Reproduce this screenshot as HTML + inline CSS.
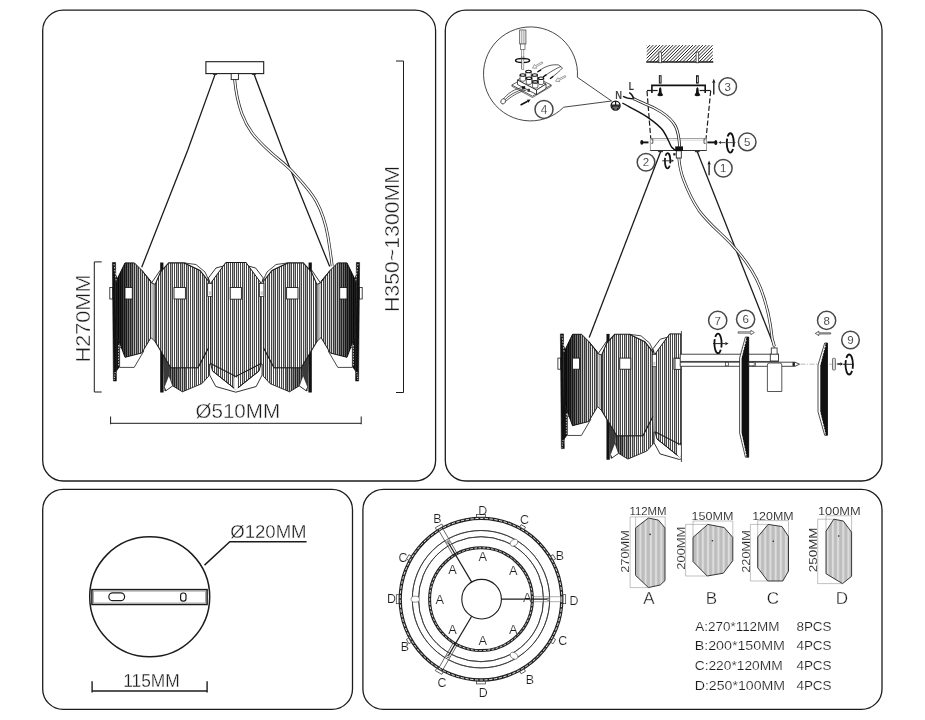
<!DOCTYPE html>
<html><head><meta charset="utf-8"><title>Chandelier diagram</title>
<style>html,body{margin:0;padding:0;background:#fff;}body{width:925px;height:720px;overflow:hidden;}svg{display:block;font-family:"Liberation Sans",sans-serif;filter:grayscale(1);}</style></head>
<body>
<svg width="925" height="720" viewBox="0 0 925 720">
<defs>
<pattern id="hM" width="16" height="8" patternUnits="userSpaceOnUse">
  <rect width="16" height="8" fill="#fff"/>
  <rect x="3" width="1" height="8" fill="#bababa"/>
  <rect x="9" width="1" height="8" fill="#ababab"/>
  <rect x="13" width="1" height="8" fill="#d4d4d4"/>
  <g fill="#464646"><rect x="0" width="1" height="8"/><rect x="2" width="1" height="8"/><rect x="4" width="1" height="8"/><rect x="6" width="1" height="8"/>
  <rect x="8" width="1" height="8"/><rect x="10" width="1" height="8"/><rect x="12" width="1" height="8"/><rect x="14" width="1" height="8"/></g>
</pattern>
<pattern id="hB" width="16" height="8" patternUnits="userSpaceOnUse">
  <rect width="16" height="8" fill="#fff"/>
  <rect x="1" width="1" height="8" fill="#b4b4b4"/>
  <rect x="5" width="1" height="8" fill="#a8a8a8"/>
  <rect x="7" width="1" height="8" fill="#d0d0d0"/>
  <rect x="11" width="1" height="8" fill="#acacac"/>
  <g fill="#464646"><rect x="0" width="1" height="8"/><rect x="2" width="1" height="8"/><rect x="4" width="1" height="8"/><rect x="6" width="1" height="8"/>
  <rect x="8" width="1" height="8"/><rect x="10" width="1" height="8"/><rect x="12" width="1" height="8"/><rect x="14" width="1" height="8"/></g>
</pattern>
<pattern id="pieceH" width="5.2" height="8" patternUnits="userSpaceOnUse">
  <rect width="5.2" height="8" fill="#c4c4c4"/>
  <rect x="0" width="1.6" height="8" fill="#dedede"/>
  <rect x="3.2" width="0.5" height="8" fill="#aaa"/>
</pattern>
<linearGradient id="shadeL" x1="0" x2="1" y1="0" y2="0">
  <stop offset="0" stop-color="#000" stop-opacity="0.9"/>
  <stop offset="0.3" stop-color="#000" stop-opacity="0.6"/>
  <stop offset="0.6" stop-color="#000" stop-opacity="0.18"/>
  <stop offset="1" stop-color="#000" stop-opacity="0"/>
</linearGradient>
</defs>
<rect width="925" height="720" fill="#fff"/>
<rect x="42.7" y="10.1" width="392.90000000000003" height="470.9" rx="20.5" ry="20.5" fill="#fff" stroke="#1c1c1c" stroke-width="1.3"/>
<rect x="445.3" y="10.1" width="436.7" height="470.9" rx="20.5" ry="20.5" fill="#fff" stroke="#1c1c1c" stroke-width="1.3"/>
<rect x="42.7" y="489.3" width="309.8" height="220.09999999999997" rx="20.5" ry="20.5" fill="#fff" stroke="#1c1c1c" stroke-width="1.3"/>
<rect x="362.9" y="489.3" width="519.1" height="220.09999999999997" rx="20.5" ry="20.5" fill="#fff" stroke="#1c1c1c" stroke-width="1.3"/>
<defs><g id="chHalf"><rect x="109.8" y="287.5" width="3.0" height="11.5" fill="#fff" stroke="#1c1c1c" stroke-width="0.8"/>
<polygon points="112.4,262.5 115.6,262.5 116.4,381.0 113.4,381.0" fill="#111" stroke="#111" stroke-width="0.6"/>
<polygon points="115.6,274.0 118.0,279.0 118.0,338.0 119.6,343.0 119.6,367.0 116.2,372.0 116.0,300.0" fill="#111"/>
<polyline points="114.0,264.0 116.4,282.0" fill="none" stroke="#fff" stroke-width="0.8" stroke-dasharray="1.5 1.5"/>
<polyline points="118.6,345.0 118.6,366.0" fill="none" stroke="#ddd" stroke-width="0.9" stroke-dasharray="1.5 1.2"/>
<polyline points="115.2,372.0 114.2,380.0" fill="none" stroke="#fff" stroke-width="0.8" stroke-dasharray="1.2 1.2"/>
<polygon points="143.9,350.9 134.2,367.4 119.6,367.4 119.6,347.5" fill="#fff" stroke="#1c1c1c" stroke-width="0.8"/>
<polygon points="125.0,262.9 134.4,262.9 142.0,270.5 151.0,281.3 151.0,337.5 141.7,353.0 125.0,357.3 117.7,337.5 117.7,278.0" fill="url(#hM)" stroke="#1c1c1c" stroke-width="1"/>
<polygon points="125.0,262.9 134.4,262.9 142.0,270.5 151.0,281.3 151.0,337.5 141.7,353.0 125.0,357.3 117.7,337.5 117.7,278.0" fill="url(#shadeL)"/>
<rect x="125.0" y="287.5" width="7.3" height="11.5" fill="#fff" stroke="#1c1c1c" stroke-width="0.9"/>
<polygon points="151.0,281.3 155.2,284.4 155.2,341.7 151.0,337.5" fill="#cfcfcf"/>
<line x1="153.2" y1="284.0" x2="153.2" y2="339.0" stroke="#777" stroke-width="0.6" />
<polyline points="142.0,270.5 151.5,283.0 160.4,270.0" fill="none" stroke="#1c1c1c" stroke-width="0.9"/>
<polyline points="151.0,337.5 155.2,341.7" fill="none" stroke="#1c1c1c" stroke-width="0.9"/>
<polyline points="151.5,283.0 155.2,284.4" fill="none" stroke="#1c1c1c" stroke-width="0.9"/>
<rect x="160.2" y="262.5" width="3.2" height="16.0" fill="#111"/>
<rect x="160.2" y="350.0" width="3.4" height="42.5" fill="#111"/>
<polygon points="163.6,352.0 170.8,367.7 198.0,367.7 208.3,348.0 208.8,376.0 201.9,383.6 182.4,391.8 172.7,385.8 165.0,391.0" fill="url(#hM)" stroke="#1c1c1c" stroke-width="0.9"/>
<polygon points="163.6,352.0 170.8,367.7 178.0,367.7 178.0,389.0 172.7,385.8 165.0,391.0" fill="#000" fill-opacity="0.5"/>
<polygon points="178.0,367.7 186.0,367.7 186.0,390.5 182.4,391.8 178.0,389.0" fill="#000" fill-opacity="0.25"/>
<polygon points="163.8,356.6 170.0,367.4 168.9,375.0 164.0,386.9" fill="#3a3a3a"/>
<polygon points="168.9,375.0 172.7,385.8 166.2,390.5 164.2,387.0" fill="#fff" stroke="#1c1c1c" stroke-width="0.7"/>
<polygon points="168.75,262.9 184.0,262.9 200.0,270.5 208.3,281.0 208.3,348.0 198.0,367.7 170.8,367.7 155.2,341.7 155.2,284.4 160.5,272.0" fill="url(#hB)" stroke="#1c1c1c" stroke-width="1.1"/>
<rect x="174.0" y="287.5" width="11.4" height="11.5" fill="#fff" stroke="#1c1c1c" stroke-width="0.9"/>
<polyline points="184.0,262.9 196.0,264.5 205.0,272.0 209.5,281.5" fill="none" stroke="#1c1c1c" stroke-width="0.8"/></g><g id="chCentre"><polyline points="225.8,262.5 224.4,265.7 216.0,268.0 208.4,277.9 209.9,283.3" fill="none" stroke="#1c1c1c" stroke-width="0.9"/>
<polyline points="246.0,262.5 247.2,265.7 255.6,268.0 263.2,277.9 261.7,283.3" fill="none" stroke="#1c1c1c" stroke-width="0.9"/>
<polygon points="209.6,364.0 209.6,375.0 215.8,386.5 235.8,392.2 256.2,386.5 262.1,375.0 262.1,364.0" fill="#fff" stroke="#1c1c1c" stroke-width="0.9"/>
<polygon points="225.8,262.5 246.0,262.5 261.2,283.3 261.2,363.5 259.0,371.0 235.8,389.6 212.6,371.0 210.6,363.5 210.6,283.3" fill="url(#hM)" stroke="#1c1c1c" stroke-width="1"/>
<polyline points="210.6,363.5 235.8,376.5 261.2,363.5" fill="none" stroke="#1c1c1c" stroke-width="1.1"/>
<polyline points="212.6,371.0 235.8,389.6 259.0,371.0" fill="none" stroke="#1c1c1c" stroke-width="0.9"/>
<polygon points="234.2,377.5 237.8,377.5 237.8,388.5 236.0,390.5 234.2,388.5" fill="#fff"/>
<rect x="230.2" y="287.5" width="11.2" height="11.7" fill="#fff" stroke="#1c1c1c" stroke-width="0.9"/>
<rect x="207.7" y="283.6" width="4.4" height="12.8" fill="#fff" stroke="#1c1c1c" stroke-width="0.7"/>
<rect x="208.8" y="291.3" width="2.2" height="3.6" fill="#ccc"/>
<rect x="259.5" y="283.6" width="4.4" height="12.8" fill="#fff" stroke="#1c1c1c" stroke-width="0.7"/>
<rect x="260.6" y="291.3" width="2.2" height="3.6" fill="#ccc"/></g>
<g id="chFull"><use href="#chHalf"/><use href="#chHalf" transform="translate(472 0) scale(-1 1)"/><use href="#chCentre"/></g></defs>
<polyline points="215,74.6 187.8,150 141.7,267.3" fill="none" stroke="#1c1c1c" stroke-width="1.3"/>
<polyline points="254.2,74.6 282.6,150 329.7,266.6" fill="none" stroke="#1c1c1c" stroke-width="1.3"/>
<path d="M234.6,79 C236,95 238,103 241.9,113.7 C248,130 256,138 263.7,145.8 C275,157 283,162 291.4,170.6 C302,182 310,190 316.2,201.2 C322,212 326,225 327.9,236.2 C329.5,246 331,256 332.2,266" fill="none" stroke="#2a2a2a" stroke-width="2.9"/>
<path d="M234.6,79 C236,95 238,103 241.9,113.7 C248,130 256,138 263.7,145.8 C275,157 283,162 291.4,170.6 C302,182 310,190 316.2,201.2 C322,212 326,225 327.9,236.2 C329.5,246 331,256 332.2,266" fill="none" stroke="#fff" stroke-width="1.4"/>
<rect x="205.9" y="61.7" width="57.8" height="11.9" fill="#fff" stroke="#1c1c1c" stroke-width="1.1"/>
<rect x="231.2" y="73.6" width="7.2" height="6" fill="#fff" stroke="#1c1c1c" stroke-width="0.9"/>
<ellipse cx="215" cy="74.2" rx="2.2" ry="0.9" fill="#333"/>
<ellipse cx="254" cy="74.2" rx="2.2" ry="0.9" fill="#333"/>
<use href="#chFull"/>
<polyline points="101.7,261.9 94.3,261.9 94.3,392 101.7,392" fill="none" stroke="#1c1c1c" stroke-width="1"/>
<text x="90.3" y="362.5" font-size="20" text-anchor="start" fill="#1c1c1c" font-weight="normal" textLength="88" lengthAdjust="spacingAndGlyphs" transform="rotate(-90 90.3 362.5)" stroke="#fff" stroke-width="0.38">H270MM</text>
<polyline points="396,61 403.5,61 403.5,392.5 396,392.5" fill="none" stroke="#1c1c1c" stroke-width="1"/>
<text x="398.5" y="312" font-size="20" text-anchor="start" fill="#1c1c1c" font-weight="normal" textLength="146" lengthAdjust="spacingAndGlyphs" transform="rotate(-90 398.5 312)" stroke="#fff" stroke-width="0.38">H350~1300MM</text>
<polyline points="110.6,416.5 110.6,424.3" fill="none" stroke="#1c1c1c" stroke-width="1"/>
<polyline points="361.2,416.5 361.2,424.3" fill="none" stroke="#1c1c1c" stroke-width="1"/>
<line x1="110.6" y1="423.3" x2="361.2" y2="423.3" stroke="#1c1c1c" stroke-width="1" />
<text x="195.4" y="417.8" font-size="19.8" text-anchor="start" fill="#1c1c1c" font-weight="normal" textLength="84.8" lengthAdjust="spacingAndGlyphs" stroke="#fff" stroke-width="0.38">Ø510MM</text>
<path d="M577.4,77.3 A47,47 0 1 0 563.7,107.2 L611.6,101 Z" fill="#fff" stroke="#333" stroke-width="0.9"/>
<rect x="519.7" y="30" width="6.2" height="14" fill="#fff" stroke="#444" stroke-width="0.8"/>
<line x1="521.8" y1="30.5" x2="521.8" y2="43.5" stroke="#666" stroke-width="0.7" />
<line x1="523.9" y1="30.5" x2="523.9" y2="43.5" stroke="#666" stroke-width="0.7" />
<rect x="520.6" y="44" width="4.4" height="5.4" fill="#fff" stroke="#555" stroke-width="0.7"/>
<rect x="521.7" y="49.4" width="2.1" height="20" fill="#fff" stroke="#666" stroke-width="0.6"/>
<ellipse cx="522.6" cy="60.4" rx="7" ry="2" fill="none" stroke="#111" stroke-width="1.5"/>
<rect x="521.9" y="61" width="1.7" height="2.6" fill="#fff"/>
<line x1="521.7" y1="56" x2="521.7" y2="69" stroke="#666" stroke-width="0.6" />
<line x1="523.8" y1="56" x2="523.8" y2="58.2" stroke="#666" stroke-width="0.6" />
<polygon points="511.9,85 530,74.6 551.2,85 532.5,96.2" fill="#fff" stroke="#333" stroke-width="0.8"/>
<polyline points="511.9,85 511.9,86.3 532.5,97.5 551.2,86.3 551.2,85" fill="none" stroke="#333" stroke-width="0.7"/>
<path d="M523.7,87.5 C515,88 507,94 503,99.5 M526.5,90 C518,92 510,97 504.5,102.5 M525,88.8 C516,91 509,95 503.8,101" fill="none" stroke="#333" stroke-width="0.8"/>
<ellipse cx="503.2" cy="101.3" rx="2.2" ry="2.8" transform="rotate(30 503.2 101.3)" fill="#fff" stroke="#333" stroke-width="0.8"/>
<path d="M537.5,72 C545,66 552,64 558.7,65 M543,77 C550,72 557,68 561,66.5 M550,78.8 C556,74 560,71 562.5,68 M558.7,65 L562.5,68" fill="none" stroke="#333" stroke-width="0.8"/>
<line x1="537.5" y1="72" x2="541" y2="69.8" stroke="#111" stroke-width="1.4" />
<line x1="543" y1="77" x2="546.5" y2="74.6" stroke="#111" stroke-width="1.4" />
<line x1="550" y1="78.8" x2="553.3" y2="76.3" stroke="#111" stroke-width="1.4" />
<polygon points="517.5,80 527,74.5 546,84 536.5,90" fill="#fff" stroke="#222" stroke-width="0.8"/>
<polygon points="517.5,80 517.5,84.5 536.5,94.5 536.5,90" fill="#fff" stroke="#222" stroke-width="0.8"/>
<polygon points="536.5,90 536.5,94.5 546,88.5 546,84" fill="#fff" stroke="#222" stroke-width="0.8"/>
<path d="M525.8,71.5 v5 a2.7,1.25 0 0 0 5.4,0 v-5 z" fill="#fff" stroke="#222" stroke-width="0.7"/>
<ellipse cx="528.5" cy="71.5" rx="2.7" ry="1.25" fill="#fff" stroke="#111" stroke-width="1.1"/>
<path d="M532.05,75 v5 a2.7,1.25 0 0 0 5.4,0 v-5 z" fill="#fff" stroke="#222" stroke-width="0.7"/>
<ellipse cx="534.75" cy="75" rx="2.7" ry="1.25" fill="#fff" stroke="#111" stroke-width="1.1"/>
<path d="M538.3,78.3 v5 a2.7,1.25 0 0 0 5.4,0 v-5 z" fill="#fff" stroke="#222" stroke-width="0.7"/>
<ellipse cx="541" cy="78.3" rx="2.7" ry="1.25" fill="#fff" stroke="#111" stroke-width="1.1"/>
<path d="M520.05,75 v5 a2.7,1.25 0 0 0 5.4,0 v-5 z" fill="#fff" stroke="#222" stroke-width="0.7"/>
<ellipse cx="522.75" cy="75" rx="2.7" ry="1.25" fill="#fff" stroke="#111" stroke-width="1.1"/>
<path d="M526.3,78.2 v5 a2.7,1.25 0 0 0 5.4,0 v-5 z" fill="#fff" stroke="#222" stroke-width="0.7"/>
<ellipse cx="529" cy="78.2" rx="2.7" ry="1.25" fill="#fff" stroke="#111" stroke-width="1.1"/>
<path d="M532.55,81.9 v5 a2.7,1.25 0 0 0 5.4,0 v-5 z" fill="#fff" stroke="#222" stroke-width="0.7"/>
<ellipse cx="535.25" cy="81.9" rx="2.7" ry="1.25" fill="#fff" stroke="#111" stroke-width="1.1"/>
<rect x="522" y="86.2" width="3.2" height="2.6" fill="#111"/>
<rect x="527.5" y="88.8" width="2.4" height="3" fill="#333"/>
<polygon points="542.13,61.85 535.19,65.74 534.48,64.47 532.5,68.1 536.63,68.31 535.92,67.04 542.87,63.15" fill="#fff" stroke="#777" stroke-width="0.7"/>
<polygon points="565.26,75.53 558.38,79.04 557.72,77.75 555.6,81.3 559.72,81.67 559.06,80.38 565.94,76.87" fill="#fff" stroke="#777" stroke-width="0.7"/>
<line x1="520.6" y1="105" x2="527.61" y2="101.22" stroke="#111" stroke-width="1.5"/><polygon points="530.6,99.6 528.42,102.71 526.80,99.72" fill="#111"/>
<circle cx="544" cy="109.4" r="9" fill="#fff" stroke="#484848" stroke-width="1.5"/><text x="544" y="113.72" font-size="12" text-anchor="middle" fill="#333" font-weight="normal" stroke="#fff" stroke-width="0.16">4</text>
<clipPath id="ceilClip"><rect x="646.7" y="45.1" width="66.1" height="16.9"/></clipPath>
<path d="M629.80,62 l16.9,-16.9M633.10,62 l16.9,-16.9M636.40,62 l16.9,-16.9M639.70,62 l16.9,-16.9M643.00,62 l16.9,-16.9M646.30,62 l16.9,-16.9M649.60,62 l16.9,-16.9M652.90,62 l16.9,-16.9M656.20,62 l16.9,-16.9M659.50,62 l16.9,-16.9M662.80,62 l16.9,-16.9M666.10,62 l16.9,-16.9M669.40,62 l16.9,-16.9M672.70,62 l16.9,-16.9M676.00,62 l16.9,-16.9M679.30,62 l16.9,-16.9M682.60,62 l16.9,-16.9M685.90,62 l16.9,-16.9M689.20,62 l16.9,-16.9M692.50,62 l16.9,-16.9M695.80,62 l16.9,-16.9M699.10,62 l16.9,-16.9M702.40,62 l16.9,-16.9M705.70,62 l16.9,-16.9M709.00,62 l16.9,-16.9M712.30,62 l16.9,-16.9M715.60,62 l16.9,-16.9" stroke="#1e1e1e" stroke-width="1.0" fill="none" clip-path="url(#ceilClip)"/>
<line x1="646.2" y1="62" x2="713.3" y2="62" stroke="#1c1c1c" stroke-width="1.4" />
<rect x="658.9000000000001" y="52" width="2.6" height="10.8" fill="#fff" stroke="#222" stroke-width="0.7"/>
<rect x="659.35" y="75.7" width="1.7" height="7.4" fill="#fff" stroke="#111" stroke-width="1"/>
<path d="M660.2,87 l1.1,1.4 l0.3,4.2 l1.6,2.6 q-3,1.9 -6,0 l1.6,-2.6 l0.3,-4.2 z" fill="#111"/>
<rect x="696.1" y="52" width="2.6" height="10.8" fill="#fff" stroke="#222" stroke-width="0.7"/>
<rect x="696.55" y="75.7" width="1.7" height="7.4" fill="#fff" stroke="#111" stroke-width="1"/>
<path d="M697.4,87 l1.1,1.4 l0.3,4.2 l1.6,2.6 q-3,1.9 -6,0 l1.6,-2.6 l0.3,-4.2 z" fill="#111"/>
<polyline points="651.9,93 651.9,85.4 705.2,85.4 705.2,93" fill="none" stroke="#111" stroke-width="1.6"/>
<line x1="647" y1="90.5" x2="657.6" y2="90.5" stroke="#1c1c1c" stroke-width="1.2" />
<line x1="699.6" y1="90.5" x2="710.7" y2="90.5" stroke="#1c1c1c" stroke-width="1.2" />
<line x1="647" y1="91" x2="651.1" y2="143.3" stroke="#1c1c1c" stroke-width="1.2" stroke-dasharray="5.2 2.2"/>
<line x1="710.7" y1="91" x2="705.6" y2="143.3" stroke="#1c1c1c" stroke-width="1.2" stroke-dasharray="5.2 2.2"/>
<line x1="713.8" y1="94.4" x2="713.80" y2="82.80" stroke="#111" stroke-width="1.3"/><polygon points="713.8,78.8 715.40,82.80 712.20,82.80" fill="#111"/>
<circle cx="727.7" cy="86.6" r="8.8" fill="#fff" stroke="#484848" stroke-width="1.5"/><text x="727.7" y="90.74" font-size="11.5" text-anchor="middle" fill="#333" font-weight="normal" stroke="#fff" stroke-width="0.1">3</text>
<text x="615.2" y="98.5" font-size="11" text-anchor="start" fill="#444" font-weight="bold" textLength="6.8" lengthAdjust="spacingAndGlyphs">N</text>
<text x="628.8" y="90.4" font-size="11" text-anchor="start" fill="#333" font-weight="bold" textLength="5.2" lengthAdjust="spacingAndGlyphs">L</text>
<circle cx="615.6" cy="105.6" r="4.5" fill="#fff" stroke="#111" stroke-width="1.3"/>
<path d="M611.4,105.3 a4.2,4.2 0 0 0 8.4,0 z" fill="#222"/>
<line x1="615.6" y1="101.2" x2="615.6" y2="105.4" stroke="#1c1c1c" stroke-width="1.2" />
<line x1="611.2" y1="105.1" x2="620" y2="105.1" stroke="#1c1c1c" stroke-width="1.2" />
<line x1="613" y1="107.2" x2="618.2" y2="107.2" stroke="#ddd" stroke-width="0.6" />
<line x1="614.2" y1="108.8" x2="617" y2="108.8" stroke="#ddd" stroke-width="0.6" />
<rect x="650.3" y="138.4" width="56.2" height="12.1" fill="#fff" stroke="#8a8a8a" stroke-width="0.8"/>
<line x1="650.3" y1="140.2" x2="706.5" y2="140.2" stroke="#bbb" stroke-width="0.6" />
<line x1="650.3" y1="150.5" x2="706.5" y2="150.5" stroke="#333" stroke-width="1.1" />
<polyline points="651.2,139 652.8,139 652.8,143.3 651.2,143.3" fill="none" stroke="#333" stroke-width="0.8"/>
<polyline points="705.6,139 704,139 704,143.3 705.6,143.3" fill="none" stroke="#333" stroke-width="0.8"/>
<path d="M622.4,103 C630,107.6 640,112 647.7,117.3 C656,123 660,126 663.3,131 C668,138 669,143 671.5,147 C673,149 675,150 677,150.3" fill="none" stroke="#111" stroke-width="1.4"/>
<path d="M633.5,98.6 C637,100.3 640,101.8 645,103.8 C651,106 656,108.5 661.5,112.1 C668,116.5 672.5,120.5 675.4,126 C678,131 679.2,139 679.7,147" fill="none" stroke="#222" stroke-width="2.9"/>
<path d="M633.5,98.6 C637,100.3 640,101.8 645,103.8 C651,106 656,108.5 661.5,112.1 C668,116.5 672.5,120.5 675.4,126 C678,131 679.2,139 679.7,147" fill="none" stroke="#fff" stroke-width="1.3"/>
<path d="M629.2,92.7 q3.2,1.6 4.6,6.1" fill="none" stroke="#111" stroke-width="1.3"/>
<path d="M623,96.2 q4,2.6 10.4,2.6" fill="none" stroke="#111" stroke-width="1.3"/>
<line x1="660.7" y1="151.5" x2="589.2" y2="337.5" stroke="#1c1c1c" stroke-width="1.3" />
<line x1="697.2" y1="151.5" x2="774.6" y2="347.5" stroke="#1c1c1c" stroke-width="1.3" />
<ellipse cx="660.5" cy="151.4" rx="2.6" ry="0.9" fill="#333"/>
<ellipse cx="697.3" cy="151.4" rx="2.6" ry="0.9" fill="#333"/>
<path d="M678.8,157.5 C679.5,166 681,173 683.6,179.7 C687.5,190 692,200 698.9,210.3 C708,223 722,234 732.5,245.4 C744,258 754,272 760,286.7 C767,304 770.5,322 772.2,338.6 L774.4,346.5" fill="none" stroke="#2a2a2a" stroke-width="2.9"/>
<path d="M678.8,157.5 C679.5,166 681,173 683.6,179.7 C687.5,190 692,200 698.9,210.3 C708,223 722,234 732.5,245.4 C744,258 754,272 760,286.7 C767,304 770.5,322 772.2,338.6 L774.4,346.5" fill="none" stroke="#fff" stroke-width="1.4"/>
<rect x="676.3" y="150.8" width="5" height="7.2" fill="#fff" stroke="#222" stroke-width="0.9"/>
<rect x="675.2" y="146.4" width="7.8" height="4.6" fill="#111"/>
<rect x="673.3" y="153.2" width="2.2" height="2.2" fill="#111"/>
<path d="M648.5,142.4 h-6" stroke="#111" stroke-width="1.9"/><ellipse cx="641.8" cy="142.4" rx="1.5" ry="2.4" fill="#111"/>
<path d="M707.4,142.4 h8" stroke="#111" stroke-width="1.9"/><ellipse cx="715.8" cy="142.4" rx="1.6" ry="2.5" fill="#111"/>
<line x1="725.5" y1="142.6" x2="721.00" y2="142.60" stroke="#333" stroke-width="0.9"/><polygon points="718.4,142.6 721.00,141.10 721.00,144.10" fill="#333"/>
<ellipse cx="730.3" cy="142.9" rx="3.5" ry="9.7" fill="none" stroke="#111" stroke-width="1.9" stroke-dasharray="19.69 2.2" stroke-dashoffset="-6.13"/>
<line x1="726" y1="142.6" x2="735.5" y2="142.6" stroke="#333" stroke-width="0.8" />
<circle cx="747.2" cy="141.9" r="8.8" fill="#fff" stroke="#484848" stroke-width="1.5"/><text x="747.2" y="146.04" font-size="11.5" text-anchor="middle" fill="#333" font-weight="normal" stroke="#fff" stroke-width="0.1">5</text>
<ellipse cx="667.6" cy="160.8" rx="2.7" ry="7.6" fill="none" stroke="#111" stroke-width="1.7" stroke-dasharray="14.91 2.2" stroke-dashoffset="-4.79"/>
<line x1="662.2" y1="160.8" x2="671.40" y2="160.80" stroke="#222" stroke-width="0.9"/><polygon points="674,160.8 671.40,162.30 671.40,159.30" fill="#222"/>
<circle cx="646" cy="162.3" r="8.8" fill="#fff" stroke="#484848" stroke-width="1.5"/><text x="646" y="166.44" font-size="11.5" text-anchor="middle" fill="#333" font-weight="normal" stroke="#fff" stroke-width="0.1">2</text>
<line x1="709.1" y1="175.3" x2="709.10" y2="164.60" stroke="#111" stroke-width="1.3"/><polygon points="709.1,160.6 710.70,164.60 707.50,164.60" fill="#111"/>
<circle cx="723.3" cy="168.3" r="8.8" fill="#fff" stroke="#484848" stroke-width="1.5"/><text x="723.3" y="172.44" font-size="11.5" text-anchor="middle" fill="#333" font-weight="normal" stroke="#fff" stroke-width="0.1">1</text>
<clipPath id="clipHalf"><rect x="540" y="320" width="141.39999999999998" height="160"/></clipPath>
<g clip-path="url(#clipHalf)"><rect x="557.9" y="358.1" width="2.89" height="11.13" fill="#fff" stroke="#1c1c1c" stroke-width="0.8"/>
<polygon points="560.4,333.9 563.49,333.9 564.26,448.61 561.36,448.61" fill="#111" stroke="#111" stroke-width="0.6"/>
<polygon points="563.49,345.03 565.8,349.87 565.8,406.98 567.34,411.82 567.34,435.06 564.06,439.9 563.87,370.2" fill="#111"/>
<polyline points="561.94,335.35 564.26,352.78" fill="none" stroke="#fff" stroke-width="0.8" stroke-dasharray="1.5 1.5"/>
<polyline points="566.38,413.76 566.38,434.09" fill="none" stroke="#ddd" stroke-width="0.9" stroke-dasharray="1.5 1.2"/>
<polyline points="563.1,439.9 562.14,447.64" fill="none" stroke="#fff" stroke-width="0.8" stroke-dasharray="1.2 1.2"/>
<polygon points="590.76,419.47 581.41,435.44 567.34,435.44 567.34,416.18" fill="#fff" stroke="#1c1c1c" stroke-width="0.8"/>
<polygon points="572.54,334.29 581.6,334.29 588.93,341.64 597.6,352.1 597.6,406.5 588.64,421.5 572.54,425.67 565.51,406.5 565.51,348.9" fill="url(#hM)" stroke="#1c1c1c" stroke-width="1"/>
<polygon points="572.54,334.29 581.6,334.29 588.93,341.64 597.6,352.1 597.6,406.5 588.64,421.5 572.54,425.67 565.51,406.5 565.51,348.9" fill="url(#shadeL)"/>
<rect x="572.54" y="358.1" width="7.04" height="11.13" fill="#fff" stroke="#1c1c1c" stroke-width="0.9"/>
<polygon points="597.6,352.1 601.65,355.1 601.65,410.57 597.6,406.5" fill="#cfcfcf"/>
<line x1="599.72" y1="354.71" x2="599.72" y2="407.95" stroke="#777" stroke-width="0.6" />
<polyline points="588.93,341.64 598.09,353.74 606.66,341.16" fill="none" stroke="#1c1c1c" stroke-width="0.9"/>
<polyline points="597.6,406.5 601.65,410.57" fill="none" stroke="#1c1c1c" stroke-width="0.9"/>
<polyline points="598.09,353.74 601.65,355.1" fill="none" stroke="#1c1c1c" stroke-width="0.9"/>
<rect x="606.47" y="333.9" width="3.08" height="15.49" fill="#111"/>
<rect x="606.47" y="418.6" width="3.28" height="41.14" fill="#111"/>
<polygon points="609.75,420.54 616.69,435.73 642.9,435.73 652.83,416.66 653.31,443.77 646.66,451.12 627.87,459.06 618.52,453.25 611.1,458.29" fill="url(#hM)" stroke="#1c1c1c" stroke-width="0.9"/>
<polygon points="609.75,420.54 616.69,435.73 623.63,435.73 623.63,456.35 618.52,453.25 611.1,458.29" fill="#000" fill-opacity="0.5"/>
<polygon points="623.63,435.73 631.34,435.73 631.34,457.8 627.87,459.06 623.63,456.35" fill="#000" fill-opacity="0.25"/>
<polygon points="609.94,424.99 615.92,435.44 614.86,442.8 610.13,454.32" fill="#3a3a3a"/>
<polygon points="614.86,442.8 618.52,453.25 612.25,457.8 610.33,454.42" fill="#fff" stroke="#1c1c1c" stroke-width="0.7"/>
<polygon points="614.71,334.29 629.41,334.29 644.83,341.64 652.83,351.81 652.83,416.66 642.9,435.73 616.69,435.73 601.65,410.57 601.65,355.1 606.76,343.1" fill="url(#hB)" stroke="#1c1c1c" stroke-width="1.1"/>
<rect x="619.77" y="358.1" width="10.99" height="11.13" fill="#fff" stroke="#1c1c1c" stroke-width="0.9"/>
<polyline points="629.41,334.29 640.97,335.84 649.65,343.1 653.99,352.29" fill="none" stroke="#1c1c1c" stroke-width="0.8"/><polyline points="669.7,333.9 668.35,337.0 660.25,339.22 652.93,348.81 654.37,354.03" fill="none" stroke="#1c1c1c" stroke-width="0.9"/>
<polyline points="689.16,333.9 690.32,337.0 698.42,339.22 705.74,348.81 704.3,354.03" fill="none" stroke="#1c1c1c" stroke-width="0.9"/>
<polygon points="654.08,432.15 654.08,442.8 660.06,453.93 679.33,459.45 699.0,453.93 704.68,442.8 704.68,432.15" fill="#fff" stroke="#1c1c1c" stroke-width="0.9"/>
<polygon points="669.7,333.9 689.16,333.9 703.81,354.03 703.81,431.67 701.69,438.93 679.33,456.93 656.97,438.93 655.05,431.67 655.05,354.03" fill="url(#hM)" stroke="#1c1c1c" stroke-width="1"/>
<polyline points="655.05,431.67 679.33,444.25 703.81,431.67" fill="none" stroke="#1c1c1c" stroke-width="1.1"/>
<polyline points="656.97,438.93 679.33,456.93 701.69,438.93" fill="none" stroke="#1c1c1c" stroke-width="0.9"/>
<polygon points="677.79,445.22 681.26,445.22 681.26,455.87 679.53,457.8 677.79,455.87" fill="#fff"/>
<rect x="673.94" y="358.1" width="10.79" height="11.33" fill="#fff" stroke="#1c1c1c" stroke-width="0.9"/>
<rect x="652.25" y="354.32" width="4.24" height="12.39" fill="#fff" stroke="#1c1c1c" stroke-width="0.7"/>
<rect x="653.31" y="361.78" width="2.12" height="3.48" fill="#ccc"/>
<rect x="702.18" y="354.32" width="4.24" height="12.39" fill="#fff" stroke="#1c1c1c" stroke-width="0.7"/>
<rect x="703.24" y="361.78" width="2.12" height="3.48" fill="#ccc"/></g>
<line x1="681.4" y1="331" x2="681.4" y2="462" stroke="#333" stroke-width="0.9" />
<rect x="675.1" y="358.5" width="5.6" height="10.8" fill="#fff" stroke="#333" stroke-width="0.8"/>
<rect x="680.2" y="354.2" width="98.3" height="7.2" fill="#fff" stroke="#333" stroke-width="0.9"/>
<path d="M680.2,362.2 H795 L799.5,364.2 L795,366.3 H680.2 Z" fill="#fff" stroke="#333" stroke-width="0.9"/>
<rect x="725.6" y="362.4" width="3" height="3.4" fill="#fff" stroke="#333" stroke-width="0.7"/>
<rect x="752.5" y="362" width="3" height="4.2" fill="#fff" stroke="#333" stroke-width="0.7"/>
<rect x="792.5" y="362.2" width="2.4" height="3.8" fill="#222"/>
<line x1="800.5" y1="364.2" x2="818.7" y2="364.2" stroke="#888" stroke-width="0.6" stroke-dasharray="5 1.5 1 1.5"/>
<line x1="829" y1="364.2" x2="838" y2="364.2" stroke="#888" stroke-width="0.6" stroke-dasharray="3 1.5"/>
<polygon points="745.4,337 748.7,337 748.7,457.2 745.4,457.2 739.6,432.9 739.6,358" fill="#fff" stroke="#222" stroke-width="0.8"/>
<polygon points="746.6,337 748.9,337 748.9,457.2 746.6,457.2 741.6,433 741.6,358" fill="#111"/>
<polyline points="746.2,340 741.2,358" fill="none" stroke="#fff" stroke-width="0.8" stroke-dasharray="1.4 1.6"/>
<polyline points="741.2,433.5 746.2,455" fill="none" stroke="#fff" stroke-width="0.8" stroke-dasharray="1.4 1.6"/>
<rect x="748.9" y="362.6" width="5.3" height="3.2" fill="#fff" stroke="#333" stroke-width="0.7"/>
<polygon points="824.7,343 827.5,343 827.5,435.3 824.7,435.3 818,411.7 818,365" fill="#fff" stroke="#222" stroke-width="0.8"/>
<polygon points="825.8,343 827.7,343 827.7,435.3 825.8,435.3 820.3,412 820.3,365" fill="#111"/>
<polyline points="825.4,346 820,365" fill="none" stroke="#fff" stroke-width="0.8" stroke-dasharray="1.4 1.6"/>
<polyline points="820,412 825.4,433" fill="none" stroke="#fff" stroke-width="0.8" stroke-dasharray="1.4 1.6"/>
<rect x="771.3" y="348" width="5.8" height="6.4" fill="#fff" stroke="#333" stroke-width="0.9"/>
<rect x="770.3" y="354.2" width="8.2" height="6.8" fill="#fff" stroke="#333" stroke-width="0.9"/>
<path d="M767.4,391.5 V365 q0,-2 2,-2 h10.4 q2,0 2,2 V391.5 Z" fill="#fff" stroke="#444" stroke-width="0.9"/>
<rect x="832.5" y="358.3" width="2.9" height="11.7" rx="0.8" fill="#ddd" stroke="#555" stroke-width="0.8"/>
<ellipse cx="718" cy="343.4" rx="3.6" ry="9.8" fill="none" stroke="#111" stroke-width="1.8" stroke-dasharray="19.99 2.2" stroke-dashoffset="-6.21"/>
<line x1="713" y1="343.6" x2="725.40" y2="343.60" stroke="#222" stroke-width="1"/><polygon points="728.6,343.6 725.40,345.30 725.40,341.90" fill="#222"/>
<circle cx="717.7" cy="320.4" r="9.1" fill="#fff" stroke="#484848" stroke-width="1.5"/><text x="717.7" y="324.53999999999996" font-size="11.5" text-anchor="middle" fill="#333" font-weight="normal" stroke="#fff" stroke-width="0.1">7</text>
<polygon points="738.1,333.15 750.9,333.15 750.9,334.7 754.4,332.5 750.9,330.3 750.9,331.85 738.1,331.85" fill="#fff" stroke="#333" stroke-width="0.7"/>
<circle cx="745.6" cy="319.3" r="9.1" fill="#fff" stroke="#484848" stroke-width="1.5"/><text x="745.6" y="323.44" font-size="11.5" text-anchor="middle" fill="#333" font-weight="normal" stroke="#fff" stroke-width="0.1">6</text>
<polygon points="830.7,332.85 818.8,332.85 818.8,331.2 815.3,333.4 818.8,335.6 818.8,333.95 830.7,333.95" fill="#fff" stroke="#222" stroke-width="0.7"/>
<circle cx="826.6" cy="320.4" r="9.1" fill="#fff" stroke="#484848" stroke-width="1.5"/><text x="826.6" y="324.53999999999996" font-size="11.5" text-anchor="middle" fill="#333" font-weight="normal" stroke="#fff" stroke-width="0.1">8</text>
<ellipse cx="849.2" cy="364.5" rx="3.7" ry="10" fill="none" stroke="#111" stroke-width="1.8" stroke-dasharray="20.47 2.2" stroke-dashoffset="-6.35"/>
<line x1="837.3" y1="364" x2="840.40" y2="364.00" stroke="#111" stroke-width="1.5"/><polygon points="843,364 840.40,365.70 840.40,362.30" fill="#111"/>
<line x1="843" y1="364.3" x2="853.5" y2="364.3" stroke="#222" stroke-width="1" />
<circle cx="850.5" cy="340" r="8.8" fill="#fff" stroke="#484848" stroke-width="1.5"/><text x="850.5" y="344.14" font-size="11.5" text-anchor="middle" fill="#333" font-weight="normal" stroke="#fff" stroke-width="0.1">9</text>
<circle cx="149.7" cy="596.8" r="60" fill="#fff" stroke="#1c1c1c" stroke-width="1.5"/>
<rect x="91.9" y="589.6" width="115.2" height="14.9" fill="#fff" stroke="#1c1c1c" stroke-width="1.5"/>
<rect x="93.4" y="591.1" width="112.2" height="11.9" fill="none" stroke="#888" stroke-width="0.7"/>
<rect x="108.8" y="592.8" width="15.8" height="7.9" rx="3.95" fill="#fff" stroke="#1c1c1c" stroke-width="1.2"/>
<rect x="180.6" y="593" width="5.4" height="8.2" rx="2.4" fill="#fff" stroke="#1c1c1c" stroke-width="1.2"/>
<polyline points="204.5,565.1 229.8,541.8 306.6,541.8" fill="none" stroke="#1c1c1c" stroke-width="1.45"/>
<text x="230.2" y="537.9" font-size="17.6" text-anchor="start" fill="#1c1c1c" font-weight="normal" textLength="76.4" lengthAdjust="spacingAndGlyphs" stroke="#fff" stroke-width="0.28">Ø120MM</text>
<line x1="92.1" y1="691" x2="207.1" y2="691" stroke="#1c1c1c" stroke-width="1.4" />
<line x1="92.1" y1="681.2" x2="92.1" y2="692.5" stroke="#1c1c1c" stroke-width="1.4" />
<line x1="207.1" y1="681.2" x2="207.1" y2="692.5" stroke="#1c1c1c" stroke-width="1.4" />
<text x="123.2" y="686.9" font-size="17.5" text-anchor="start" fill="#1c1c1c" font-weight="normal" textLength="56.6" lengthAdjust="spacingAndGlyphs" stroke="#fff" stroke-width="0.28">115MM</text>
<circle cx="481.0" cy="599.2" r="80.8" fill="#fff" stroke="#222" stroke-width="3.3"/>
<circle cx="481.0" cy="599.2" r="80.8" fill="none" stroke="#fff" stroke-width="0.9" stroke-dasharray="3.2 1.6"/>
<circle cx="481.0" cy="599.2" r="68.7" fill="none" stroke="#333" stroke-width="0.8"/>
<circle cx="481.0" cy="599.2" r="62.5" fill="none" stroke="#333" stroke-width="0.8"/>
<polygon points="532.5,601.7 560.4,601.7 560.4,596.7 532.5,596.7" fill="#fff"/>
<line x1="532.5" y1="601.7" x2="560.4" y2="601.7" stroke="#999" stroke-width="0.8" />
<line x1="532.5" y1="596.7" x2="560.4" y2="596.7" stroke="#999" stroke-width="0.8" />
<polygon points="457.2,553.5 443.2,529.3 439.4,531.5 453.3,555.7" fill="#fff"/>
<line x1="457.2" y1="553.5" x2="443.2" y2="529.3" stroke="#444" stroke-width="0.8" />
<line x1="453.3" y1="555.7" x2="439.4" y2="531.5" stroke="#444" stroke-width="0.8" />
<polygon points="453.3,642.7 439.4,666.9 443.2,669.1 457.2,644.9" fill="#fff"/>
<line x1="453.3" y1="642.7" x2="439.4" y2="666.9" stroke="#444" stroke-width="0.8" />
<line x1="457.2" y1="644.9" x2="443.2" y2="669.1" stroke="#444" stroke-width="0.8" />
<circle cx="481.0" cy="599.2" r="68.7" fill="none" stroke="#333" stroke-width="0.8"/>
<circle cx="481.0" cy="599.2" r="62.5" fill="none" stroke="#333" stroke-width="0.8"/>
<circle cx="481.0" cy="599.2" r="51.4" fill="none" stroke="#222" stroke-width="3"/>
<circle cx="481.0" cy="599.2" r="51.4" fill="none" stroke="#fff" stroke-width="0.8" stroke-dasharray="2.6 1.6"/>
<circle cx="481.6" cy="599.2" r="19.8" fill="#fff" stroke="#1c1c1c" stroke-width="1.1"/>
<line x1="501.4" y1="599.2" x2="547.5" y2="599.2" stroke="#1c1c1c" stroke-width="1.2" />
<circle cx="548.1" cy="599.2" r="1.2" fill="#fff" stroke="#222" stroke-width="0.7"/>
<line x1="471.7" y1="582.1" x2="448.2" y2="542.5" stroke="#1c1c1c" stroke-width="1.2" />
<circle cx="448.0" cy="542.0" r="1.2" fill="#fff" stroke="#222" stroke-width="0.7"/>
<line x1="471.7" y1="616.3" x2="448.2" y2="655.9" stroke="#1c1c1c" stroke-width="1.2" />
<circle cx="447.9" cy="656.4" r="1.2" fill="#fff" stroke="#222" stroke-width="0.7"/>
<rect x="563.1" y="594.7" width="2.6" height="9" fill="#fff" stroke="#333" stroke-width="0.7" transform="rotate(0 564.4 599.2)"/>
<rect x="479.7" y="511.3" width="2.6" height="9" fill="#fff" stroke="#333" stroke-width="0.7" transform="rotate(-90 481.0 515.8)"/>
<rect x="396.3" y="594.7" width="2.6" height="9" fill="#fff" stroke="#333" stroke-width="0.7" transform="rotate(-180 397.6 599.2)"/>
<rect x="479.7" y="678.1" width="2.6" height="9" fill="#fff" stroke="#333" stroke-width="0.7" transform="rotate(-270 481.0 682.6)"/>
<rect x="438.0" y="523.2" width="2.6" height="7.5" fill="#fff" stroke="#333" stroke-width="0.7" transform="rotate(-120 439.3 527.0)"/>
<rect x="438.0" y="667.7" width="2.6" height="7.5" fill="#fff" stroke="#333" stroke-width="0.7" transform="rotate(-240 439.3 671.4)"/>
<rect x="521.4" y="524.5" width="2.6" height="5" fill="#fff" stroke="#333" stroke-width="0.7" transform="rotate(-60 522.7 527.0)"/>
<rect x="521.4" y="668.9" width="2.6" height="5" fill="#fff" stroke="#333" stroke-width="0.7" transform="rotate(-300 522.7 671.4)"/>
<rect x="551.9" y="555.0" width="2.6" height="5" fill="#fff" stroke="#333" stroke-width="0.7" transform="rotate(-30 553.2 557.5)"/>
<rect x="407.5" y="555.0" width="2.6" height="5" fill="#fff" stroke="#333" stroke-width="0.7" transform="rotate(-150 408.8 557.5)"/>
<rect x="407.5" y="638.4" width="2.6" height="5" fill="#fff" stroke="#333" stroke-width="0.7" transform="rotate(-210 408.8 640.9)"/>
<rect x="551.9" y="638.4" width="2.6" height="5" fill="#fff" stroke="#333" stroke-width="0.7" transform="rotate(-330 553.2 640.9)"/>
<ellipse cx="415.2" cy="599.2" rx="4.2" ry="3" fill="#fff" stroke="#666" stroke-width="0.7"/>
<ellipse cx="514.0" cy="542.7" rx="4.2" ry="3" fill="#fff" stroke="#666" stroke-width="0.7" transform="rotate(-30 514.0 542.7)"/>
<ellipse cx="514.0" cy="655.7" rx="4.2" ry="3" fill="#fff" stroke="#666" stroke-width="0.7" transform="rotate(30 514.0 655.7)"/>
<text x="482.7" y="515.2" font-size="12.4" text-anchor="middle" fill="#1c1c1c" font-weight="normal" stroke="#fff" stroke-width="0.16">D</text>
<text x="437.5" y="523.3" font-size="12.4" text-anchor="middle" fill="#1c1c1c" font-weight="normal" stroke="#fff" stroke-width="0.16">B</text>
<text x="524.4" y="523.9" font-size="12.4" text-anchor="middle" fill="#1c1c1c" font-weight="normal" stroke="#fff" stroke-width="0.16">C</text>
<text x="403.1" y="562.1" font-size="12.4" text-anchor="middle" fill="#1c1c1c" font-weight="normal" stroke="#fff" stroke-width="0.16">C</text>
<text x="559.9" y="560.3" font-size="12.4" text-anchor="middle" fill="#1c1c1c" font-weight="normal" stroke="#fff" stroke-width="0.16">B</text>
<text x="391.4" y="602.6" font-size="12.4" text-anchor="middle" fill="#1c1c1c" font-weight="normal" stroke="#fff" stroke-width="0.16">D</text>
<text x="573.9" y="605.0" font-size="12.4" text-anchor="middle" fill="#1c1c1c" font-weight="normal" stroke="#fff" stroke-width="0.16">D</text>
<text x="404.8" y="650.7" font-size="12.4" text-anchor="middle" fill="#1c1c1c" font-weight="normal" stroke="#fff" stroke-width="0.16">B</text>
<text x="562.8" y="644.9" font-size="12.4" text-anchor="middle" fill="#1c1c1c" font-weight="normal" stroke="#fff" stroke-width="0.16">C</text>
<text x="441.9" y="686.6" font-size="12.4" text-anchor="middle" fill="#1c1c1c" font-weight="normal" stroke="#fff" stroke-width="0.16">C</text>
<text x="529.9" y="684.3" font-size="12.4" text-anchor="middle" fill="#1c1c1c" font-weight="normal" stroke="#fff" stroke-width="0.16">B</text>
<text x="483.3" y="696.8" font-size="12.4" text-anchor="middle" fill="#1c1c1c" font-weight="normal" stroke="#fff" stroke-width="0.16">D</text>
<text x="482.7" y="561.4" font-size="12.8" text-anchor="middle" fill="#1c1c1c" font-weight="normal" stroke="#fff" stroke-width="0.16">A</text>
<text x="452.6" y="573.9" font-size="12.8" text-anchor="middle" fill="#1c1c1c" font-weight="normal" stroke="#fff" stroke-width="0.16">A</text>
<text x="513.3" y="574.5" font-size="12.8" text-anchor="middle" fill="#1c1c1c" font-weight="normal" stroke="#fff" stroke-width="0.16">A</text>
<text x="439.8" y="604.0" font-size="12.8" text-anchor="middle" fill="#1c1c1c" font-weight="normal" stroke="#fff" stroke-width="0.16">A</text>
<text x="527.3" y="602.2" font-size="12.8" text-anchor="middle" fill="#1c1c1c" font-weight="normal" stroke="#fff" stroke-width="0.16">A</text>
<text x="452.6" y="633.7" font-size="12.8" text-anchor="middle" fill="#1c1c1c" font-weight="normal" stroke="#fff" stroke-width="0.16">A</text>
<text x="513.3" y="633.7" font-size="12.8" text-anchor="middle" fill="#1c1c1c" font-weight="normal" stroke="#fff" stroke-width="0.16">A</text>
<text x="482.7" y="644.5" font-size="12.8" text-anchor="middle" fill="#1c1c1c" font-weight="normal" stroke="#fff" stroke-width="0.16">A</text>
<polyline points="635.6,516.9 630.1,516.9 630.1,587.6 648.4,587.6" fill="none" stroke="#999" stroke-width="0.6"/>
<polyline points="635.6,527.9 635.6,516.9 665.2,516.9 665.2,527.9" fill="none" stroke="#999" stroke-width="0.6"/>
<polygon points="648.4,518 658.4,520.1 665,527.9 665,580.6 660.2,585 648.4,587.6 635.6,575.4 635.6,527.9" fill="url(#pieceH)" stroke="#222" stroke-width="0.9"/>
<circle cx="650.1" cy="534.4" r="0.8" fill="#222"/>
<polyline points="707.8,524.4 685.6,524.4 685.6,576 707.2,576" fill="none" stroke="#999" stroke-width="0.6"/>
<polyline points="693,537.4 693,521 732.8,521 732.8,537.4" fill="none" stroke="#999" stroke-width="0.6"/>
<polygon points="707.8,524.4 724.2,527.5 732.8,537.4 732.8,560.7 723.3,573.2 707.2,576 693,561.6 693,537.4" fill="url(#pieceH)" stroke="#222" stroke-width="0.9"/>
<circle cx="712.4" cy="540.8" r="0.8" fill="#222"/>
<polyline points="768.1,524.4 750.4,524.4 750.4,581 767.7,581" fill="none" stroke="#999" stroke-width="0.6"/>
<polyline points="757.7,537 757.7,520.6 788.5,520.6 788.5,536.5" fill="none" stroke="#999" stroke-width="0.6"/>
<polygon points="768.1,524.4 781.9,526.5 788.5,536.5 788.5,571.1 782.8,581 767.7,581 757.7,567.7 757.7,537" fill="url(#pieceH)" stroke="#222" stroke-width="0.9"/>
<circle cx="773.3" cy="541.2" r="0.8" fill="#222"/>
<polyline points="833.8,519.2 817.7,519.2 817.7,583.6 842.5,583.6" fill="none" stroke="#999" stroke-width="0.6"/>
<polyline points="826,531.3 826,515.8 851.6,515.8 851.6,532.2" fill="none" stroke="#999" stroke-width="0.6"/>
<polygon points="833.8,519.2 843.3,521 851.6,532.2 851.6,576.3 842.5,583.6 826,573.7 826,531.3" fill="url(#pieceH)" stroke="#222" stroke-width="0.9"/>
<circle cx="838.7" cy="536" r="0.8" fill="#222"/>
<text x="629.4" y="514.9" font-size="10.6" text-anchor="start" fill="#1c1c1c" font-weight="normal" textLength="37.2" lengthAdjust="spacingAndGlyphs" stroke="#fff" stroke-width="0.1">112MM</text>
<text x="691.5" y="519.9" font-size="10.6" text-anchor="start" fill="#1c1c1c" font-weight="normal" textLength="42" lengthAdjust="spacingAndGlyphs" stroke="#fff" stroke-width="0.1">150MM</text>
<text x="752.2" y="520.1" font-size="10.6" text-anchor="start" fill="#1c1c1c" font-weight="normal" textLength="41.4" lengthAdjust="spacingAndGlyphs" stroke="#fff" stroke-width="0.1">120MM</text>
<text x="817.9" y="514.6" font-size="10.6" text-anchor="start" fill="#1c1c1c" font-weight="normal" textLength="42.8" lengthAdjust="spacingAndGlyphs" stroke="#fff" stroke-width="0.1">100MM</text>
<text x="629.2" y="572.8" font-size="10.8" text-anchor="start" fill="#1c1c1c" font-weight="normal" textLength="42.8" lengthAdjust="spacingAndGlyphs" transform="rotate(-90 629.2 572.8)" stroke="#fff" stroke-width="0.1">270MM</text>
<text x="685.4" y="569.7" font-size="10.8" text-anchor="start" fill="#1c1c1c" font-weight="normal" textLength="43.1" lengthAdjust="spacingAndGlyphs" transform="rotate(-90 685.4 569.7)" stroke="#fff" stroke-width="0.1">200MM</text>
<text x="750" y="572.8" font-size="10.8" text-anchor="start" fill="#1c1c1c" font-weight="normal" textLength="42.8" lengthAdjust="spacingAndGlyphs" transform="rotate(-90 750 572.8)" stroke="#fff" stroke-width="0.1">220MM</text>
<text x="817.3" y="572.3" font-size="10.8" text-anchor="start" fill="#1c1c1c" font-weight="normal" textLength="44.9" lengthAdjust="spacingAndGlyphs" transform="rotate(-90 817.3 572.3)" stroke="#fff" stroke-width="0.1">250MM</text>
<text x="648.9" y="604.2" font-size="17" text-anchor="middle" fill="#1c1c1c" font-weight="normal" stroke="#fff" stroke-width="0.28">A</text>
<text x="711.3" y="604.2" font-size="17" text-anchor="middle" fill="#1c1c1c" font-weight="normal" stroke="#fff" stroke-width="0.28">B</text>
<text x="773" y="604.4" font-size="17" text-anchor="middle" fill="#1c1c1c" font-weight="normal" stroke="#fff" stroke-width="0.28">C</text>
<text x="841.8" y="604.2" font-size="17" text-anchor="middle" fill="#1c1c1c" font-weight="normal" stroke="#fff" stroke-width="0.28">D</text>
<text x="695.3" y="630.7" font-size="12.4" text-anchor="start" fill="#1c1c1c" font-weight="normal" textLength="84.2" lengthAdjust="spacingAndGlyphs" stroke="#fff" stroke-width="0.16">A:270*112MM</text>
<text x="796.4" y="630.7" font-size="12.4" text-anchor="start" fill="#1c1c1c" font-weight="normal" textLength="35.2" lengthAdjust="spacingAndGlyphs" stroke="#fff" stroke-width="0.16">8PCS</text>
<text x="694.7" y="650.4" font-size="12.4" text-anchor="start" fill="#1c1c1c" font-weight="normal" textLength="90.2" lengthAdjust="spacingAndGlyphs" stroke="#fff" stroke-width="0.16">B:200*150MM</text>
<text x="796.4" y="650.4" font-size="12.4" text-anchor="start" fill="#1c1c1c" font-weight="normal" textLength="35.2" lengthAdjust="spacingAndGlyphs" stroke="#fff" stroke-width="0.16">4PCS</text>
<text x="694.7" y="670.3" font-size="12.4" text-anchor="start" fill="#1c1c1c" font-weight="normal" textLength="88" lengthAdjust="spacingAndGlyphs" stroke="#fff" stroke-width="0.16">C:220*120MM</text>
<text x="796.4" y="670.3" font-size="12.4" text-anchor="start" fill="#1c1c1c" font-weight="normal" textLength="35.2" lengthAdjust="spacingAndGlyphs" stroke="#fff" stroke-width="0.16">4PCS</text>
<text x="694.7" y="690.4" font-size="12.4" text-anchor="start" fill="#1c1c1c" font-weight="normal" textLength="90.4" lengthAdjust="spacingAndGlyphs" stroke="#fff" stroke-width="0.16">D:250*100MM</text>
<text x="796.4" y="690.4" font-size="12.4" text-anchor="start" fill="#1c1c1c" font-weight="normal" textLength="35.2" lengthAdjust="spacingAndGlyphs" stroke="#fff" stroke-width="0.16">4PCS</text>
</svg>
</body></html>
